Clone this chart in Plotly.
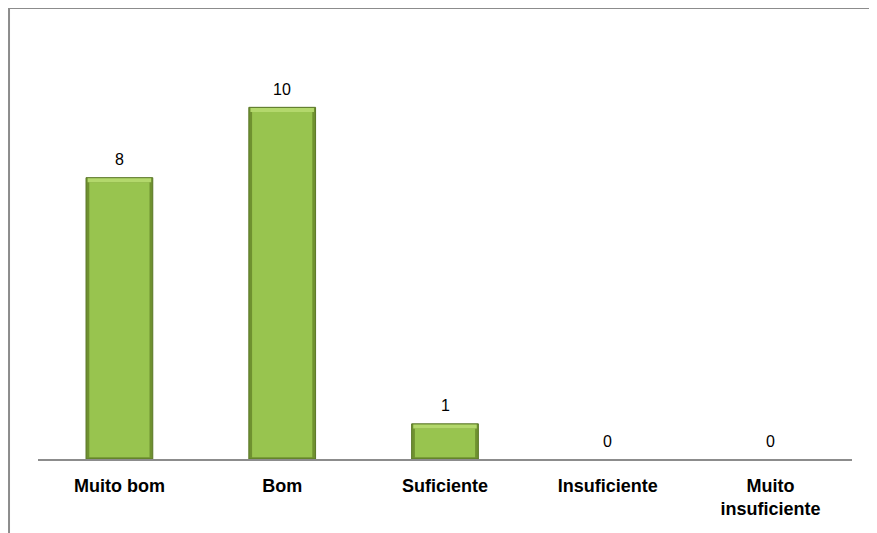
import plotly.graph_objects as go

# data
categories = ['Muito bom', 'Bom', 'Suficiente', 'Insuficiente', 'Muito<br>insuficiente']
values = [8, 10, 1, 0, 0]

FONT = 'Liberation Sans, Arial, sans-serif'
BEVEL = 0.13


def add_band(fig, width, ys, base, color):
    fig.add_trace(go.Bar(x=categories, y=ys, base=base, width=width,
                         marker={'color': color, 'line': {'width': 0}},
                         hoverinfo='skip', showlegend=False))


def main():
    fig = go.Figure()
    # outer dark edge
    fig.add_trace(go.Bar(x=categories, y=values, width=0.41,
                         marker={'color': '#6F9130',
                                 'line': {'color': '#5A7726',
                                          'width': [1 if v > 0 else 0 for v in values]}},
                         showlegend=False))
    # body
    body = [max(v - BEVEL - 0.05, 0) for v in values]
    add_band(fig, 0.37, body, 0.05, '#98C44F')
    # top bevel strip
    top = [BEVEL - 0.02 if v > 0 else 0 for v in values]
    top_base = [v - BEVEL if v > 0 else 0 for v in values]
    add_band(fig, 0.39, top, top_base, '#B3D86C')

    for cat, v in zip(categories, values):
        fig.add_annotation(x=cat, y=v, text=str(v), showarrow=False,
                           yshift=18,
                           font={'family': FONT, 'size': 16, 'color': '#000000'})

    fig.update_layout(width=869, height=525,
                      margin={'l': 30, 'r': 25, 't': 29, 'b': 74},
                      paper_bgcolor='white',
                      plot_bgcolor='white',
                      barmode='overlay',
                      font={'family': FONT, 'color': '#000000'},
                      xaxis={'showline': True,
                             'linecolor': '#8C8C8C',
                             'linewidth': 2,
                             'showgrid': False,
                             'ticks': '',
                             'ticklabelstandoff': 9,
                             'tickfont': {'family': FONT, 'size': 18, 'color': '#000000',
                                          'weight': 'bold'}},
                      yaxis={'range': [0, 12],
                             'visible': False,
                             'showgrid': False,
                             'zeroline': False})

    # chart border (left and top edges visible in the window)
    border = {'color': '#8C8C8C', 'width': 2}
    fig.add_shape(type='line', xref='paper', yref='paper',
                  x0=-0.0356, x1=-0.0356, y0=-0.3, y1=1.0687, line=border)
    fig.add_shape(type='line', xref='paper', yref='paper',
                  x0=-0.0356, x1=1.1, y0=1.0687, y1=1.0687, line=border)

    fig.write_html('out.html')


if __name__ == '__main__':
    main()
